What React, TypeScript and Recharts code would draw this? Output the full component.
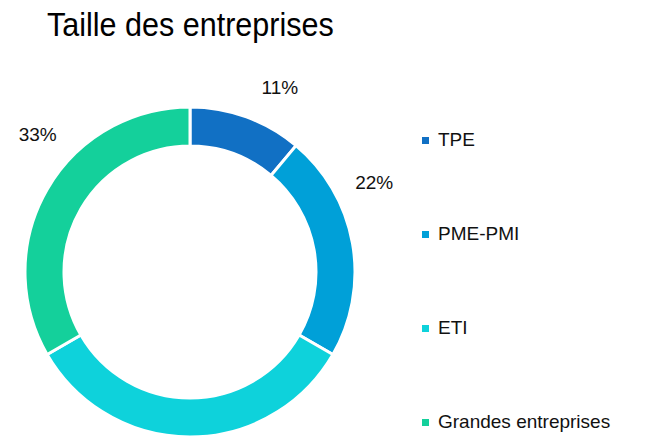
import { PieChart, Pie, Cell, Legend } from 'recharts';

const categories = ['TPE', 'PME-PMI', 'ETI', 'Grandes entreprises'];
const shares = [11, 22, 33, 33];

const COLORS = ['#1170C4', '#00A0D8', '#0ED2DB', '#14D09B'];
// nudges (deg, clockwise) so labels sit where the original puts them
const LABEL_SHIFT = [6, -16, -33, 12];

const FONT = '"Liberation Sans", Arial, sans-serif';

const data = categories.map((name, i) => ({ name, value: shares[i] }));

const RAD = Math.PI / 180;

const renderLabel = (props: any) => {
  const { cx, cy, midAngle, index, value } = props;
  const a = (midAngle - LABEL_SHIFT[index]) * RAD;
  const r = 205;
  const x = cx + r * Math.cos(a);
  const y = cy - r * Math.sin(a);
  return (
    <text x={x} y={y} fill="#111" fontSize={19} fontFamily={FONT} textAnchor="middle" dominantBaseline="central">
      {value}%
    </text>
  );
};

const LegendList = () => (
  <div style={{ fontFamily: FONT, fontSize: 19, color: '#111' }}>
    {data.map((d, i) => (
      <div key={d.name} style={{ display: 'flex', alignItems: 'center', height: 94 }}>
        <span style={{ width: 7, height: 7, background: COLORS[i], marginRight: 9, display: 'inline-block' }} />
        {d.name}
      </div>
    ))}
  </div>
);

export default function App() {
  return (
    <div style={{ position: 'absolute', left: 0, top: 0, width: 651, height: 437, background: '#fff', overflow: 'hidden' }}>
      <div
        style={{
          position: 'absolute',
          left: 47,
          top: 6,
          fontFamily: FONT,
          fontSize: 33,
          color: '#000',
          transform: 'scaleX(0.925)',
          transformOrigin: 'left top',
          whiteSpace: 'nowrap',
        }}
      >
        Taille des entreprises
      </div>
      <PieChart width={651} height={437} margin={{ top: 0, right: 0, bottom: 0, left: 0 }}>
        <Pie
          data={data}
          dataKey="value"
          cx={190}
          cy={272}
          innerRadius={126}
          outerRadius={165}
          startAngle={90}
          endAngle={-270}
          stroke="#fff"
          strokeWidth={3}
          label={renderLabel}
          labelLine={false}
          isAnimationActive={false}
        >
          {data.map((d, i) => (
            <Cell key={d.name} fill={COLORS[i]} />
          ))}
        </Pie>
        <Legend
          layout="vertical"
          content={<LegendList />}
          wrapperStyle={{ left: 422, top: 93, width: 229 }}
        />
      </PieChart>
    </div>
  );
}
